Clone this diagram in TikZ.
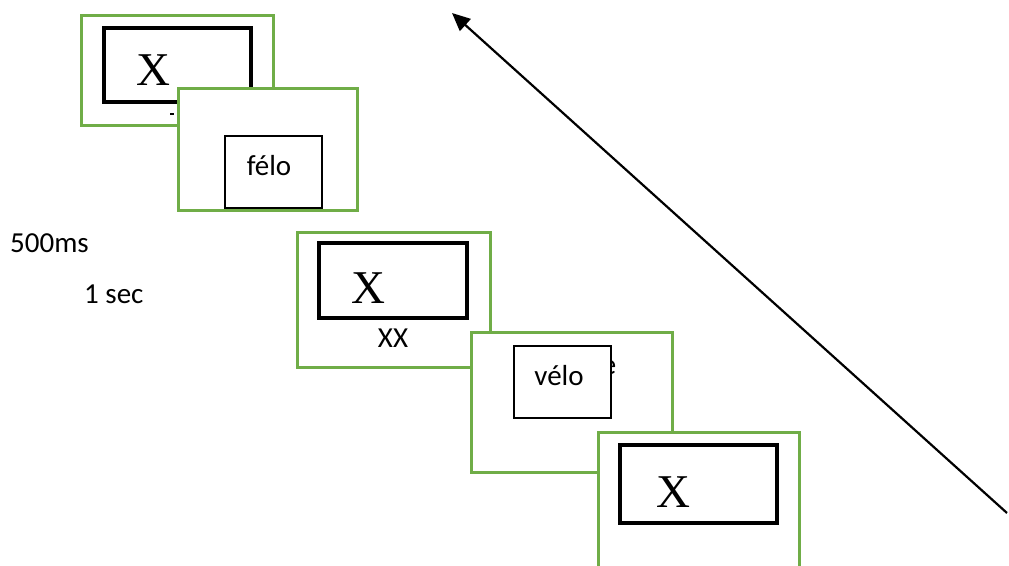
\documentclass[tikz,border=0pt]{standalone}
\usepackage{fontspec}
\setmainfont{Carlito}
\newfontfamily\timesfont{Liberation Serif}
\usetikzlibrary{arrows.meta}
\definecolor{framegreen}{RGB}{112,173,71}

\begin{document}
\begin{tikzpicture}[x=1pt,y=-1pt,
    frame/.style={draw=framegreen,line width=3pt,fill=white},
    xbox/.style={draw=black,line width=3.5pt,fill=white},
    wordbox/.style={draw=black,line width=1.8pt,fill=white},
    word/.style={font=\fontsize{29}{31}\selectfont,anchor=base,inner sep=0pt},
    bigx/.style={font=\timesfont\fontsize{47}{49}\selectfont,anchor=base,inner sep=0pt}]
  \useasboundingbox (0,0) rectangle (1009,565);
  \clip (0,0) rectangle (1009,565);

  % fixation frame
  \draw[frame] (81,15) rectangle (273,125);
  \draw[xbox] (104,28) rectangle (251,102);
  \node[bigx] (fixA) at (153,85) {X};
  \fill (170,113) rectangle (174,115);

  % prime frame
  \draw[frame] (178,88) rectangle (357,210);
  \draw[wordbox] (225,136) rectangle (322,208);
  \node[word] (prime) at (269,175) {félo};

  % mask frame
  \draw[frame] (297,232) rectangle (490,367);
  \draw[xbox] (319,243) rectangle (467,318);
  \node[bigx] (fixB) at (368,303) {X};
  \node[word] (mask) at (393,347) {XX};

  % target frame
  \draw[frame] (471,332) rectangle (672,472);
  \node[word] (hidden) at (609,374) {e};
  \draw[wordbox] (514,346) rectangle (611,418);
  \node[word] (target) at (559,385) {vélo};

  % next trial
  \draw[frame] (598,432) rectangle (799,580);
  \draw[xbox] (620,445) rectangle (777,523);
  \node[bigx] (fixC) at (673,507) {X};

  % durations
  \node[word,anchor=base west] (soa) at (10,252) {500ms};
  \node[word,anchor=base west] (isi) at (84,303) {1 sec};

  % time axis
  \coordinate (tstart) at (1007,513);
  \coordinate (tend) at (452,13);
  \draw[line width=2.2pt,-{Triangle[length=18pt,width=16pt]}] (tstart) -- (tend);
\end{tikzpicture}
\end{document}
